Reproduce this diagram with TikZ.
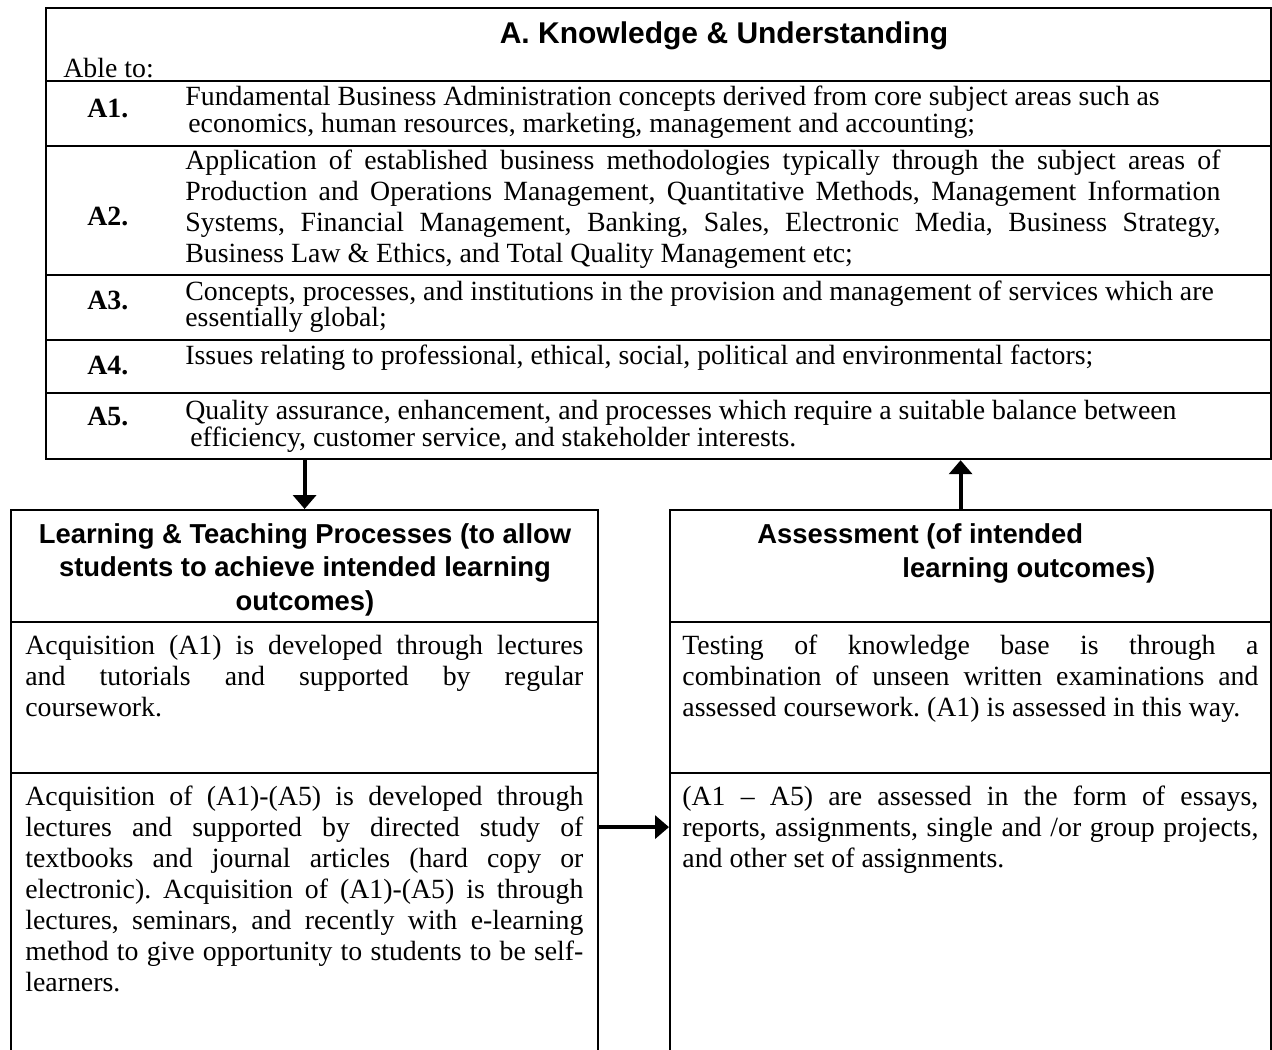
\documentclass[tikz,border=0pt]{standalone}
\usepackage{fontspec}
\setmainfont{Liberation Serif}
\setsansfont{Liberation Sans}
\usetikzlibrary{arrows.meta, positioning}
\frenchspacing

% justified lines of fixed width
\newcommand{\jrow}[1]{\makebox[517.5pt][s]{#1}}
\newcommand{\jleft}[1]{\makebox[279pt][s]{#1}}
\newcommand{\jright}[1]{\makebox[288pt][s]{#1}}

\begin{document}
\begin{tikzpicture}[x=0.5pt, y=-0.5pt,
  frame/.style={draw, line width=1.1pt, inner sep=0pt, anchor=north west},
  rule/.style={line width=1.1pt},
  flow/.style={line width=2pt, -{Triangle[width=11.5pt,length=7pt]}},
  body/.style={inner sep=0pt, anchor=base west, align=left, font=\fontsize{13.9}{15.5}\selectfont},
  lbl/.style={body, font=\fontsize{13.9}{15.5}\selectfont\bfseries},
  hdr/.style={inner sep=0pt, font=\sffamily\bfseries\fontsize{13.7}{16.75}\selectfont}
]
  \useasboundingbox (0,0) rectangle (1272,1049);

  % knowledge box (text nodes sit on the baseline of their last line)
  \node[frame, minimum width=612.5pt, minimum height=225.5pt] (ku) at (45,7) {};
  \foreach \y in {81,146,275,340,393}
    \draw[rule] (ku.west |- 0,\y) -- (ku.east |- 0,\y);
  \node[hdr, anchor=base, font=\sffamily\bfseries\fontsize{15}{18}\selectfont] (kutitle) at (724,43) {A. Knowledge \& Understanding};
  \node[body] (ableto) at (63,77) {Able to:};

  \node[lbl] (la1) at (87,117) {A1.};
  \node[lbl] (la2) at (87,225) {A2.};
  \node[lbl] (la3) at (87,309) {A3.};
  \node[lbl] (la4) at (87,374) {A4.};
  \node[lbl] (la5) at (87,425) {A5.};

  \node[body] (ta1) at (185,132) {Fundamental Business Administration concepts derived from core subject areas such as\\[-2pt]
    \hspace{1.5pt}economics, human resources, marketing, management and accounting;};
  \node[body] (ta2) at (185,262) {\jrow{Application of established business methodologies typically through the subject areas of}\\
    \jrow{Production and Operations Management, Quantitative Methods, Management Information}\\
    \jrow{Systems, Financial Management, Banking, Sales, Electronic Media, Business Strategy,}\\
    Business Law \& Ethics, and Total Quality Management etc;};
  \node[body] (ta3) at (185,326) {Concepts, processes, and institutions in the provision and management of services which are\\[-2.5pt]
    essentially global;};
  \node[body] (ta4) at (185,364) {Issues relating to professional, ethical, social, political and environmental factors;};
  \node[body] (ta5) at (185,446) {Quality assurance, enhancement, and processes which require a suitable balance between\\[-2pt]
    \hspace{2.5pt}efficiency, customer service, and stakeholder interests.};

  % learning and teaching box
  \node[frame, minimum width=293.5pt, minimum height=275.5pt] (lt) at (10,509) {};
  \draw[rule] (lt.west |- 0,622) -- (lt.east |- 0,622);
  \draw[rule] (lt.west |- 0,773) -- (lt.east |- 0,773);
  \node[hdr, anchor=base, align=center] (lthead) at (305,610) {Learning \& Teaching Processes (to allow\\
    students to achieve intended learning\\outcomes)};
  \node[body] (lta) at (25,716) {\jleft{Acquisition (A1) is developed through lectures}\\
    \jleft{and tutorials and supported by regular}\\
    coursework.};
  \node[body] (ltb) at (25,991) {\jleft{Acquisition of (A1)-(A5) is developed through}\\
    \jleft{lectures and supported by directed study of}\\
    \jleft{textbooks and journal articles (hard copy or}\\
    \jleft{electronic). Acquisition of (A1)-(A5) is through}\\
    \jleft{lectures, seminars, and recently with e-learning}\\
    \jleft{method to give opportunity to students to be self-}\\
    learners.};

  % assessment box
  \node[frame, minimum width=300.5pt, minimum height=275.5pt] (as) at (669,509) {};
  \draw[rule] (as.west |- 0,622) -- (as.east |- 0,622);
  \draw[rule] (as.west |- 0,773) -- (as.east |- 0,773);
  \node[hdr, anchor=base west, align=left] (ashead) at (757,577) {Assessment (of intended\\
    \hspace{72.5pt}learning outcomes)};
  \node[body] (asa) at (682,716) {\jright{Testing of knowledge base is through a}\\
    \jright{combination of unseen written examinations and}\\
    assessed coursework. (A1) is assessed in this way.};
  \node[body] (asb) at (682,867) {\jright{(A1 -- A5) are assessed in the form of essays,}\\
    \jright{reports, assignments, single and /or group projects,}\\
    and other set of assignments.};

  % connectors
  \draw[flow] (lt.north |- ku.south) -- (lt.north);
  \draw[flow] ([xshift=-5pt]as.north) -- ([xshift=-5pt]as.north |- ku.south);
  \draw[flow] ([yshift=-20.75pt]lt.east) -- ([yshift=-20.75pt]as.west);
\end{tikzpicture}
\end{document}
